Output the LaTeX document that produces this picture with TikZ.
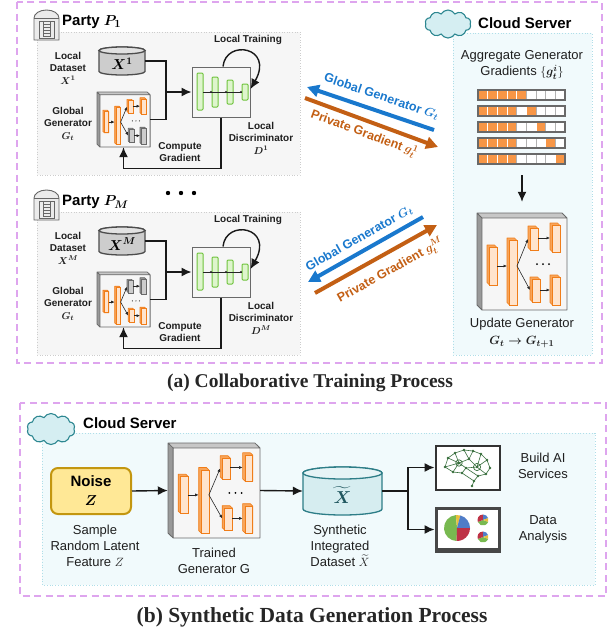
\documentclass[tikz,border=0pt]{standalone}
\usepackage{fontspec}
\usepackage{amsmath}
\setmainfont{Liberation Sans}
\newfontfamily\capfont{Liberation Serif}
\usetikzlibrary{arrows.meta,shapes.symbols}

\definecolor{genedge}{RGB}{240,125,25}
\definecolor{genside}{RGB}{248,165,90}
\definecolor{genfront}{RGB}{255,228,205}
\definecolor{gryedge}{RGB}{105,105,105}
\definecolor{gryside}{RGB}{150,150,150}
\definecolor{gryfront}{RGB}{205,205,205}
\definecolor{discedge}{RGB}{110,195,60}
\definecolor{discfill}{RGB}{222,245,205}
\definecolor{frameedge}{RGB}{105,105,105}
\definecolor{framefill}{RGB}{246,246,246}
\definecolor{dashpink}{RGB}{222,165,238}
\definecolor{partybg}{RGB}{246,246,246}
\definecolor{partyline}{RGB}{205,205,205}
\definecolor{cloudbg}{RGB}{241,250,252}
\definecolor{cloudline}{RGB}{175,222,232}
\definecolor{cloudfill}{RGB}{213,238,242}
\definecolor{cloudedge}{RGB}{45,135,145}
\definecolor{sendblue}{RGB}{25,120,205}
\definecolor{sendorange}{RGB}{195,95,20}
\definecolor{cellorange}{RGB}{247,150,70}
\definecolor{cylgray}{RGB}{205,205,205}
\definecolor{noisefill}{RGB}{255,232,150}
\definecolor{noiseedge}{RGB}{195,150,15}
\definecolor{xtfill}{RGB}{214,237,240}
\definecolor{xtedge}{RGB}{45,125,135}
\definecolor{brain}{RGB}{55,110,60}
\definecolor{piegreen}{RGB}{120,185,80}
\definecolor{pieblue}{RGB}{80,125,200}
\definecolor{piered}{RGB}{190,50,70}
\definecolor{pieyellow}{RGB}{232,190,60}

% one layer of the net: x, y, width, height, colour prefix
\newcommand\nnbar[5]{%
  \filldraw[draw=#5edge,fill=#5side,line width=.7pt,line join=round]
    (#1,#2) -- (#1+#3-2.5,#2) -- (#1+#3,#2+2.5) -- (#1+#3,#2+#4) -- (#1+2.5,#2+#4) -- (#1,#2+#4-2.5) -- cycle;
  \filldraw[draw=#5edge,fill=#5front,line width=.7pt] (#1+2.5,#2+2.5) rectangle (#1+#3,#2+#4);
}

% generator in its box, 90x97, colours of upper and lower branch
\newcommand\gennet[2]{%
  \fill[black!40] (0,0) -- (5,5) -- (5,97) -- (0,92) -- cycle;
  \fill[black!22] (0,0) -- (85,0) -- (90,5) -- (5,5) -- cycle;
  \fill[framefill] (5,5) rectangle (90,97);
  \draw[frameedge,line width=.8pt,line join=round] (0,0) -- (85,0) -- (90,5) -- (90,97) -- (5,97) -- (0,92) -- cycle
    (0,0) -- (5,5) -- (90,5) (5,5) -- (5,97);
  \nnbar{10}{32}{10}{40}{gen}
  \nnbar{30}{25}{10}{67}{gen}
  \nnbar{51}{13}{10}{24}{#1}
  \nnbar{73}{10}{10}{29}{#1}
  \nnbar{53}{64}{10}{25}{#2}
  \nnbar{73}{62}{10}{30}{#2}
  \draw[netarrow] (20,53) -- (30,53);
  \draw[netarrow] (40,53) -- (51,26);
  \draw[netarrow] (40,53) -- (53,77);
  \draw[netarrow] (61,25) -- (73,25);
  \draw[netarrow] (63,77) -- (73,77);
  \foreach \dx in {60,66,72} \fill (\dx,51) circle (1);
}

% discriminator layers, box 58x50
\newcommand\discnet{%
  \foreach \bx/\by/\bh in {5/6/37, 20/10/30, 35/13/24, 50/17/16}
    \filldraw[fill=discfill,draw=discedge,line width=1pt,rounded corners=1pt] (\bx,\by) rectangle ++(6,\bh);
  \draw[black!85,line width=.6pt] (11,25) -- (50,25);
  \foreach \dx in {19,34,49} \fill[black!85] (\dx,25) circle (1.1);
}

% database: cx, cy, width, height, fill, edge
\newcommand\dbcyl[6]{%
  \filldraw[fill=#5,draw=#6,line width=1.3pt] (#1-#3/2,#2-#4/2+#4/8) -- (#1-#3/2,#2+#4/2-#4/8)
    arc[start angle=180,end angle=0,x radius=#3/2,y radius=#4/8] -- (#1+#3/2,#2-#4/2+#4/8)
    arc[start angle=0,end angle=-180,x radius=#3/2,y radius=#4/8] -- cycle;
  \filldraw[fill=#5!60!white,draw=#6,line width=1.3pt] (#1,#2-#4/2+#4/8) ellipse[x radius=#3/2,y radius=#4/8];
}

% data centre of a party
\newcommand\partyicon[2]{%
  \begin{scope}[shift={(#1,#2)}]
    \filldraw[fill=black!8,draw=black!60,line width=.9pt] (0,9) -- (0,31) -- (25,31) -- (25,9)
      arc[start angle=0,end angle=-180,x radius=12.5,y radius=8] -- cycle;
    \draw[black!60,line width=.9pt] (0,9) -- (25,9);
    \draw[black!60,line width=.8pt] (5,12) rectangle (20,29);
    \draw[black!60,line width=.7pt] (9,13) -- (9,28) (16,13) -- (16,28);
    \foreach \yy in {15,18,...,27} \draw[black!60,line width=.7pt] (9,\yy) -- (16,\yy);
  \end{scope}
}

\begin{document}
\begin{tikzpicture}[x=1pt,y=-1pt]
\tikzstyle{every node}+=[inner sep=0pt]
\tikzstyle{tag}=[font=\fontsize{10}{12.5}\selectfont\bfseries, align=center, text=black!88]
\tikzstyle{txt}=[font=\fontsize{13}{16}\selectfont, align=center, text=black!88]
\tikzstyle{headtext}=[font=\fontsize{15}{18}\selectfont\bfseries, anchor=west]
\tikzstyle{captext}=[font=\fontsize{19.5}{22}\selectfont\capfont\bfseries, text=black!85]
\tikzstyle{flow}=[-{Latex[length=10pt,width=9pt]}, line width=1.4pt, black!90]
\tikzstyle{wire}=[line width=1.4pt, black!90]
\tikzstyle{netarrow}=[-{Latex[length=3.5pt,width=3pt]}, line width=.6pt, black!85]
\tikzstyle{send}=[-{Triangle[length=12pt,width=12pt]}, line width=4pt]
\tikzstyle{sendtag}=[font=\fontsize{12.5}{14}\selectfont\bfseries, sloped]
\tikzstyle{region}=[draw=dashpink, dash pattern=on 7pt off 4.5pt, line width=1.4pt]
\tikzstyle{partybox}=[fill=partybg, draw=partyline, dotted, line width=.6pt]
\tikzstyle{serverbox}=[fill=cloudbg, draw=cloudline, dotted, line width=.8pt]
\tikzstyle{puff}=[cloud, cloud puffs=10, cloud puff arc=120, aspect=1.7, fill=cloudfill, draw=cloudedge, line width=1.1pt]
\useasboundingbox (0,0) rectangle (614,633);

% ---- (a) collaborative training
\draw[region] (17,2) rectangle (602,363);

\foreach \k/\dy/\tc/\bc in {1/0/gen/gry, M/180/gry/gen}{
  \begin{scope}[shift={(0,\dy)}]
    \draw[partybox] (37,32) rectangle (300,175);
    \partyicon{34}{9}
    \node[headtext] (party\k) at (62,22) {Party $\boldsymbol{P_{\k}}$};
    \dbcyl{122}{61}{46}{28}{cylgray}{black!70}
    \node[minimum width=46pt, minimum height=28pt] (data\k) at (122,61) {};
    \node[font=\fontsize{14}{16}\selectfont] (datax\k) at (122,64) {$\boldsymbol{X^{\k}}$};
    \node[minimum width=53pt, minimum height=55pt] (gen\k) at (123.5,119.5) {};
    \begin{scope}[shift={(97,92)}, xscale=.59, yscale=.567]
      \gennet{\tc}{\bc}
    \end{scope}
    \node[draw=frameedge, fill=framefill, line width=1pt, minimum width=58pt, minimum height=50pt] (disc\k) at (221,92) {};
    \begin{scope}[shift={(192,67)}]
      \discnet
    \end{scope}
    \coordinate (join\k) at (166,92);
    \draw[wire] (data\k.east) -| (join\k);
    \draw[wire] (gen\k.east) -| (join\k);
    \draw[flow] (join\k) -- (disc\k.west);
    \draw[flow] ([xshift=2pt]disc\k.north) .. controls +(3,-28) and +(24,-42) .. ([yshift=3pt]disc\k.east);
    \draw[flow] (disc\k.south) -- ++(0,51) -| (gen\k.south);
    \node[tag] (datatag\k) at (68,68) {Local\\Dataset\\$\boldsymbol{X^{\k}}$};
    \node[tag] (gentag\k) at (68,124) {Global\\Generator\\$\boldsymbol{G_t}$};
    \node[tag] (looptag\k) at (248,40) {Local Training};
    \node[tag] (disctag\k) at (261,138) {Local\\Discriminator\\$\boldsymbol{D^{\k}}$};
    \node[tag] (gradtag\k) at (180,152) {Compute\\Gradient};
  \end{scope}
}
\foreach \dx in {168,181,194} \fill (\dx,193) circle (2.2);

% server side
\draw[serverbox] (453,33) rectangle (592,355);
\node[puff, minimum width=46pt, minimum height=28pt] (srvcloud) at (448,24) {};
\node[headtext] (srvhead) at (478,23) {Cloud Server};
\node[txt] (aggtag) at (522,65) {Aggregate Generator\\Gradients $\{\boldsymbol{g_t^i}\}$};
\foreach \r in {0,...,4}{
  \foreach \c in {0,...,8}{
    \ifnum\c<4 \def\cc{cellorange}\def\cl{white}\else
      \ifnum\c=\numexpr4+\r\relax\def\cc{cellorange}\def\cl{white}\else\def\cc{white}\def\cl{black!30}\fi\fi
    \filldraw[fill=\cc, draw=\cl, line width=.9pt] (478+\c*9.67,90+\r*16) rectangle ++(9.67,10);
  }
  \draw[gryedge, line width=1.3pt] (478,90+\r*16) rectangle ++(87,10);
}
\coordinate (aggbot) at (522,175);
\node[minimum width=90pt, minimum height=97pt] (upd) at (522,261.5) {};
\begin{scope}[shift={(477,213)}]
  \gennet{gen}{gen}
\end{scope}
\draw[flow] (aggbot) -- ([yshift=11pt]upd.north);
\node[txt] (updtag) at (522,333) {Update Generator\\[1pt]$\boldsymbol{G_t \rightarrow G_{t+1}}$};

% messages between parties and server
\coordinate (g1from) at (434,130); \coordinate (g1to) at (307,87);
\coordinate (p1from) at (305,98);  \coordinate (p1to) at (438,147);
\coordinate (gMfrom) at (423,217); \coordinate (gMto) at (308,282);
\coordinate (pMfrom) at (315,293); \coordinate (pMto) at (437,225);
\draw[send, sendblue] (g1from) -- (g1to);
\draw[send, sendorange] (p1from) -- (p1to);
\draw[send, sendblue] (gMfrom) -- (gMto);
\draw[send, sendorange] (pMfrom) -- (pMto);
\path (g1to) -- (g1from) node[sendtag, pos=.55, above=9pt, text=sendblue] (g1tag) {Global Generator $\boldsymbol{G_t}$};
\path (p1from) -- (p1to) node[sendtag, pos=.48, below=6pt, text=sendorange] (p1tag) {Private Gradient $\boldsymbol{g_t^1}$};
\path (gMto) -- (gMfrom) node[sendtag, midway, above=7pt, text=sendblue] (gMtag) {Global Generator $\boldsymbol{G_t}$};
\path (pMfrom) -- (pMto) node[sendtag, pos=.55, below=10pt, text=sendorange] (pMtag) {Private Gradient $\boldsymbol{g_t^M}$};

\node[captext] (capa) at (310,383) {(a) Collaborative Training Process};

% ---- (b) synthetic data generation
\draw[region] (20,403) rectangle (606,596);
\draw[serverbox] (42,433) rectangle (595,585);
\node[puff, minimum width=48pt, minimum height=31pt] (gencloud) at (51,429) {};
\node[headtext] (genhead) at (83,423) {Cloud Server};

\node[draw=noiseedge, fill=noisefill, line width=2pt, rounded corners=7pt, minimum width=80pt, minimum height=46pt,
  font=\fontsize{15}{19}\selectfont\bfseries, align=center] (noise) at (91,491) {Noise\\$\boldsymbol{Z}$};
\node[minimum width=92pt, minimum height=95pt] (tgen) at (214,490.5) {};
\begin{scope}[shift={(168,443)}, xscale=1.022, yscale=.979]
  \gennet{gen}{gen}
\end{scope}
\dbcyl{342.5}{491}{79}{48}{xtfill}{xtedge}
\node[minimum width=79pt, minimum height=48pt] (xt) at (342.5,491) {};
\node[font=\fontsize{19}{20}\selectfont, text=xtedge!70!black] (xtx) at (342.5,495) {$\widetilde{\boldsymbol{X}}$};

\node[draw=black!80, line width=2pt, fill=white, minimum width=64pt, minimum height=44pt] (ai) at (467.5,467.5) {};
\begin{scope}[shift={(467,467)}]
  \foreach \n/\px/\py in {a/-22/0, b/-19/-9, c/-12/-14, d/-3/-17, e/6/-16, f/14/-13, g/20/-7, h/23/1,
      i/19/7, j/11/9, k/7/14, l/5/19, m/-5/6, n/-14/5, o/-8/-4, p/2/-8, q/10/0, r/-1/1}
    \coordinate (br\n) at (\px,\py);
  \foreach \u/\v in {a/b, b/c, c/d, d/e, e/f, f/g, g/h, h/i, i/j, j/k, k/l, a/n, n/m, m/r, r/j,
      b/o, c/o, o/p, d/p, p/e, p/q, q/f, q/g, q/i, o/r, r/q, n/o, m/k, a/o}
    \draw[brain, line width=.6pt] (br\u) -- (br\v);
  \foreach \n in {a,b,c,d,e,f,g,h,i,j,k,l,m,n,o,p,q,r}
    \fill[brain] (br\n) circle (1.3);
  \draw[brain, line width=.7pt] (bro) circle (3.2) (brq) circle (3.6);
\end{scope}

\node[draw=black!72, line width=3pt, fill=white, minimum width=63pt, minimum height=43pt] (chart) at (467.5,529.5) {};
\fill[black!72] ([yshift=5pt]chart.south west) rectangle (chart.south east);
\begin{scope}[shift={(457,528)}, yscale=-1]
  \fill[piegreen] (0,0) -- (95:13) arc[start angle=95, end angle=268, radius=13] -- cycle;
  \fill[pieyellow] (0,0) -- (75:13) arc[start angle=75, end angle=95, radius=13] -- cycle;
  \fill[pieblue] (0,0) -- (0:13) arc[start angle=0, end angle=75, radius=13] -- cycle;
  \fill[piered] (0,0) -- (268:13) arc[start angle=268, end angle=360, radius=13] -- cycle;
\end{scope}
\foreach \cy in {520,537}{
  \begin{scope}[shift={(483,\cy)}, yscale=-1]
    \fill[piegreen] (0,0) -- (200:5.5) arc[start angle=200, end angle=340, radius=5.5] -- cycle;
    \fill[piered] (0,0) -- (90:5.5) arc[start angle=90, end angle=200, radius=5.5] -- cycle;
    \fill[pieblue] (0,0) -- (20:5.5) arc[start angle=20, end angle=90, radius=5.5] -- cycle;
    \fill[pieyellow] (0,0) -- (340:5.5) arc[start angle=340, end angle=380, radius=5.5] -- cycle;
  \end{scope}
}

\coordinate (fork) at (408,491);
\draw[flow] (noise.east) -- (tgen.west);
\draw[flow] (tgen.east) -- (xt.west);
\draw[wire] (xt.east) -- (fork);
\draw[flow] (fork) |- (ai.west);
\draw[flow] (fork) |- (chart.west);

\node[txt] (noisetag) at (95,546) {Sample\\Random Latent\\Feature $Z$};
\node[txt] (tgentag) at (214,561) {Trained\\Generator G};
\node[txt] (xttag) at (340,546) {Synthetic\\Integrated\\Dataset $\widetilde{X}$};
\node[txt] (aitag) at (543,466) {Build AI\\Services};
\node[txt] (charttag) at (543,529) {Data\\Analysis};

\node[captext, font=\fontsize{21.5}{24}\selectfont\capfont\bfseries] (capb) at (312,617) {(b) Synthetic Data Generation Process};
\end{tikzpicture}
\end{document}
